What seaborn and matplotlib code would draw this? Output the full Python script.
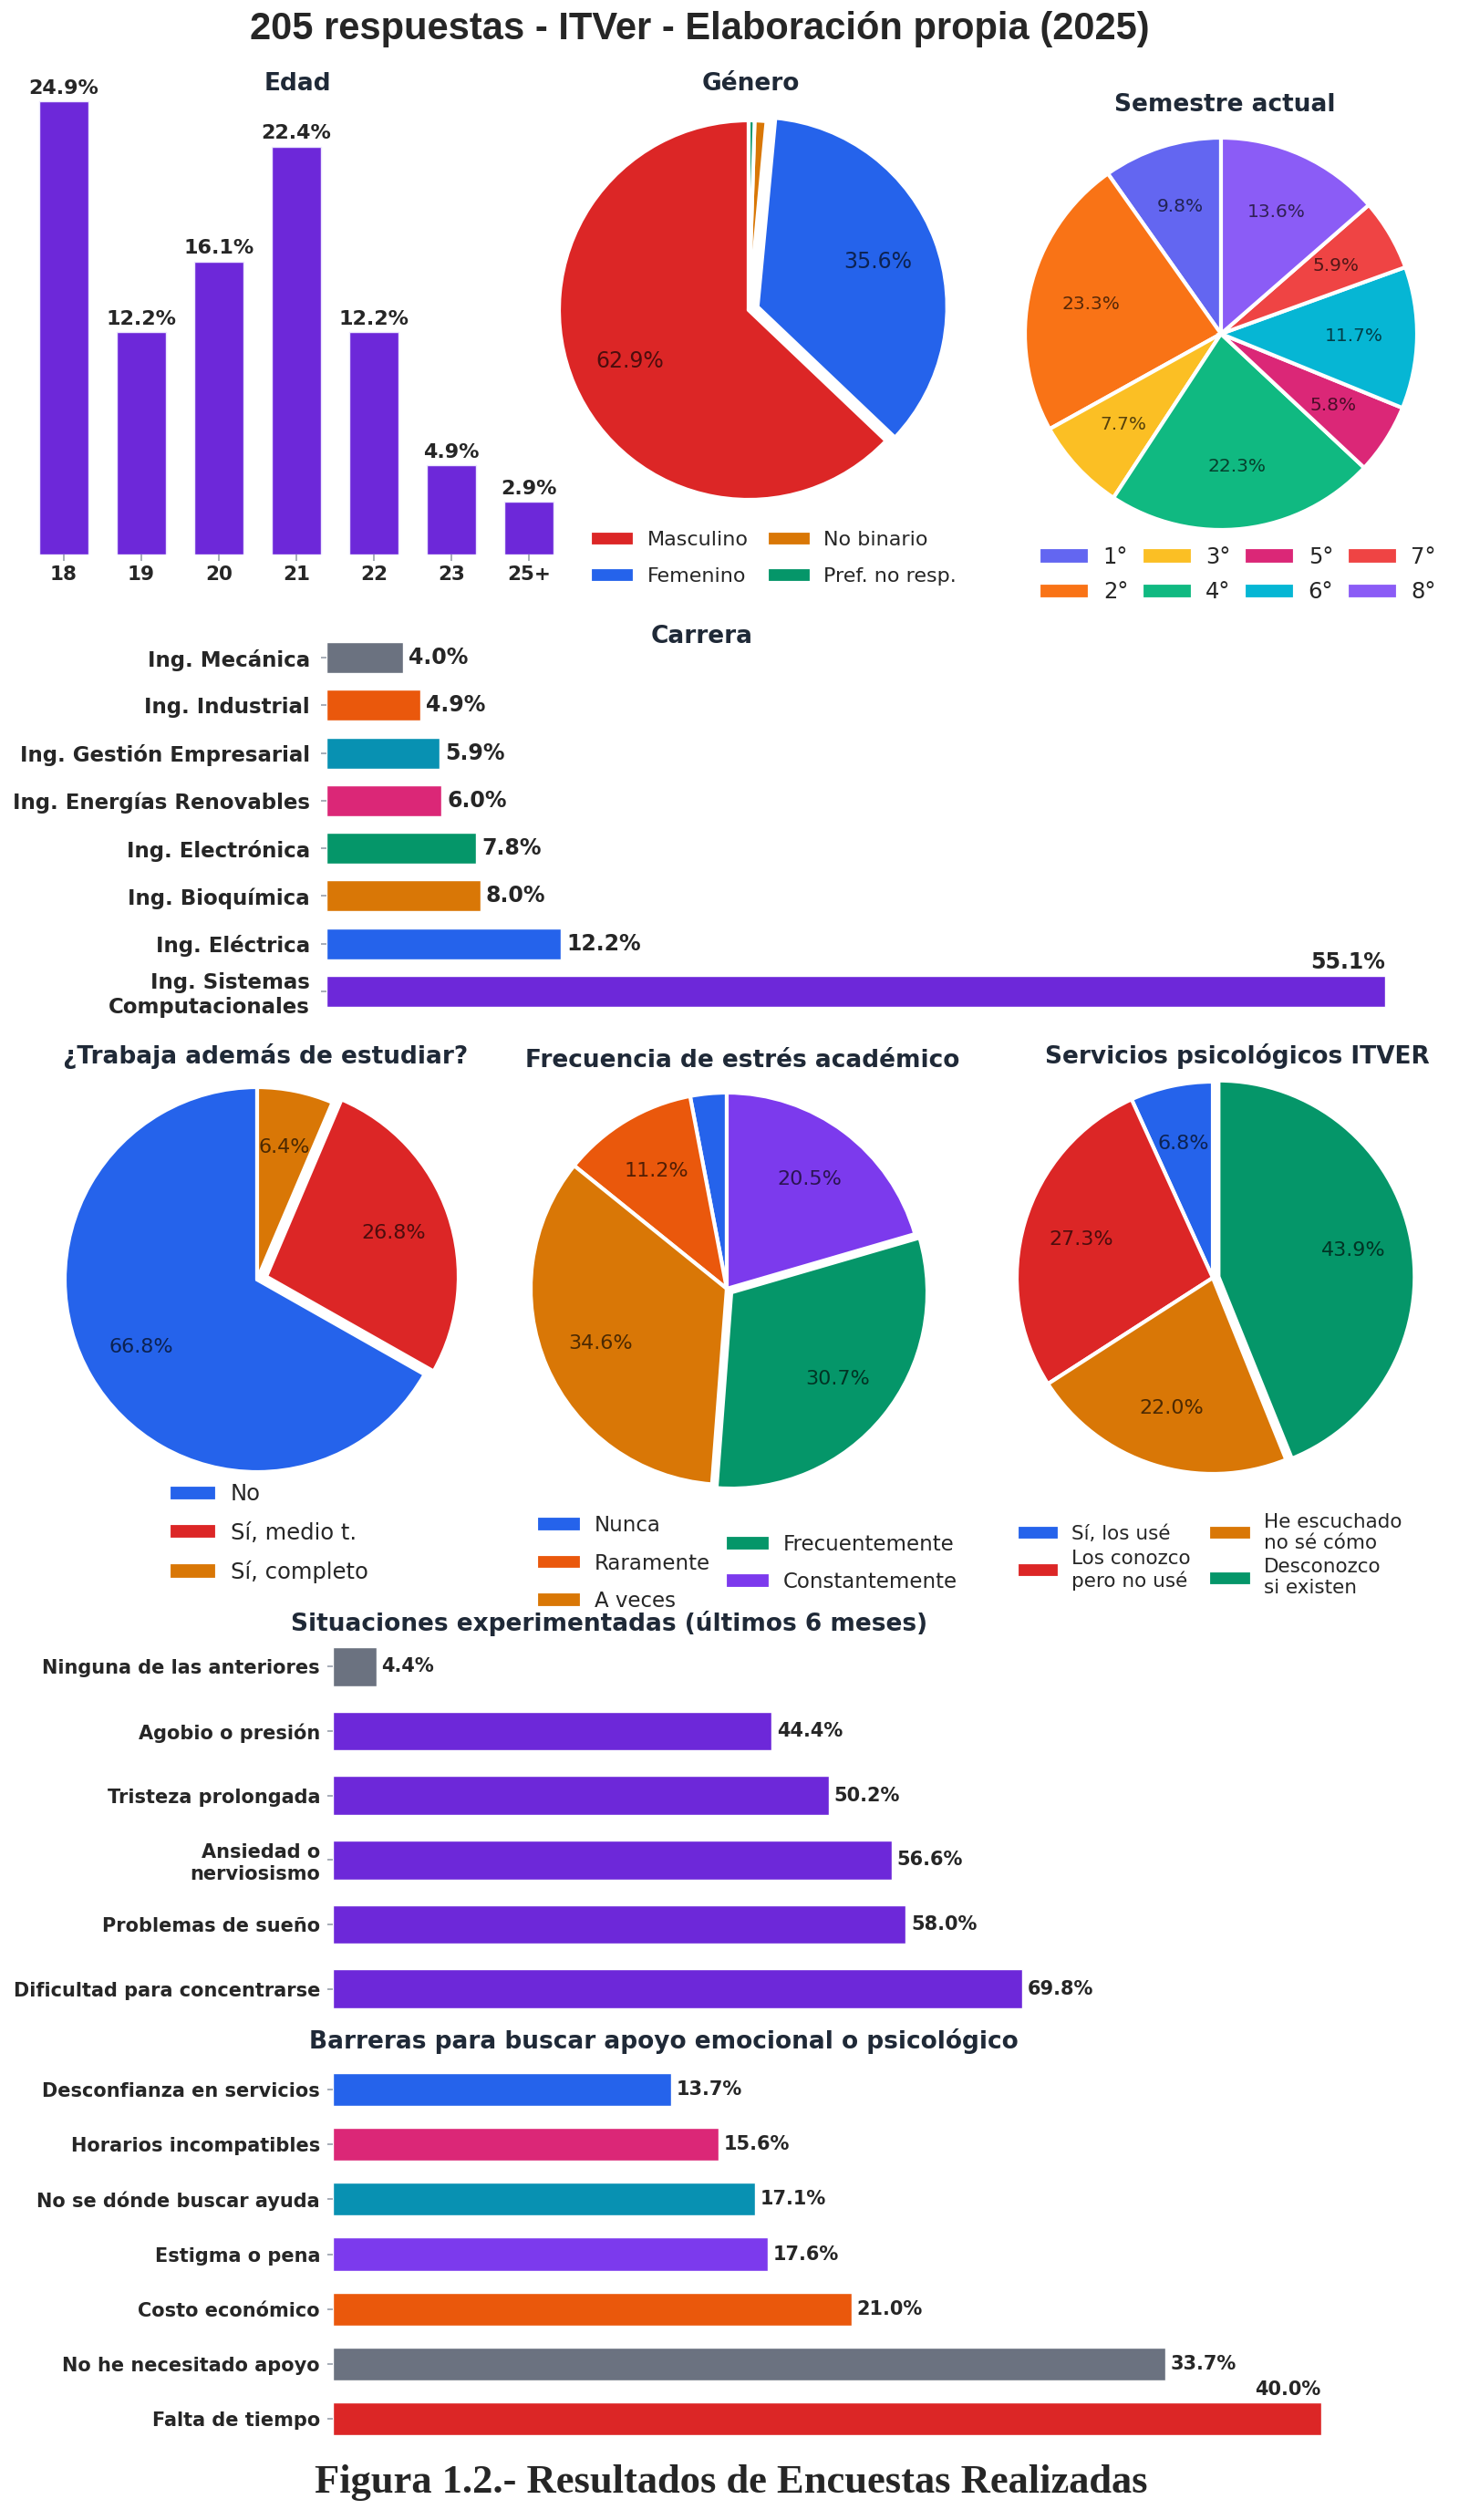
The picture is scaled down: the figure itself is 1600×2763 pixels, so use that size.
import matplotlib
matplotlib.use("Agg")
import matplotlib.pyplot as plt
import seaborn as sns
import pandas as pd

# ---------------- data ----------------
edad_labels = ["18", "19", "20", "21", "22", "23", "25+"]
edad_values = [24.9, 12.2, 16.1, 22.4, 12.2, 4.9, 2.9]

genero_labels = ["Masculino", "Femenino", "No binario", "Pref. no resp."]
genero_values = [62.9, 35.6, 1.0, 0.5]

semestre_labels = ["1°", "2°", "3°", "4°", "5°", "6°", "7°", "8°"]
semestre_values = [9.8, 23.3, 7.7, 22.3, 5.8, 11.7, 5.9, 13.6]

carrera_labels = ["Ing. Mecánica", "Ing. Industrial", "Ing. Gestión Empresarial",
                  "Ing. Energías Renovables", "Ing. Electrónica", "Ing. Bioquímica",
                  "Ing. Eléctrica", "Ing. Sistemas\nComputacionales"]
carrera_values = [4.0, 4.9, 5.9, 6.0, 7.8, 8.0, 12.2, 55.1]

trabajo_labels = ["No", "Sí, medio t.", "Sí, completo"]
trabajo_values = [66.8, 26.8, 6.4]

estres_labels = ["Nunca", "Raramente", "A veces", "Frecuentemente", "Constantemente"]
estres_values = [3.0, 11.2, 34.6, 30.7, 20.5]

servicios_labels = ["Sí, los usé", "Los conozco\npero no usé",
                    "He escuchado\nno sé cómo", "Desconozco\nsi existen"]
servicios_values = [6.8, 27.3, 22.0, 43.9]

situaciones_labels = ["Ninguna de las anteriores", "Agobio o presión", "Tristeza prolongada",
                      "Ansiedad o\nnerviosismo", "Problemas de sueño",
                      "Dificultad para concentrarse"]
situaciones_values = [4.4, 44.4, 50.2, 56.6, 58.0, 69.8]

barreras_labels = ["Desconfianza en servicios", "Horarios incompatibles",
                   "No se dónde buscar ayuda", "Estigma o pena", "Costo económico",
                   "No he necesitado apoyo", "Falta de tiempo"]
barreras_values = [13.7, 15.6, 17.1, 17.6, 21.0, 33.7, 40.0]

# ---------------- colours ----------------
PURPLE = "#6d28d9"
genero_colors = ["#dc2626", "#2563eb", "#d97706", "#059669"]
semestre_colors = ["#6366f1", "#f97316", "#fbbf24", "#10b981",
                   "#db2777", "#06b6d4", "#ef4444", "#8b5cf6"]
carrera_colors = ["#6b7280", "#ea580c", "#0891b2", "#db2777",
                  "#059669", "#d97706", "#2563eb", PURPLE]
trabajo_colors = ["#2563eb", "#dc2626", "#d97706"]
estres_colors = ["#2563eb", "#ea580c", "#d97706", "#059669", "#7c3aed"]
servicios_colors = ["#2563eb", "#dc2626", "#d97706", "#059669"]
situaciones_colors = ["#6b7280"] + [PURPLE] * 5
barreras_colors = ["#2563eb", "#db2777", "#0891b2", "#7c3aed",
                   "#ea580c", "#6b7280", "#dc2626"]
TITLE_C = "#1f2937"

sns.set_theme(style="white")
plt.rcParams["font.family"] = ["DejaVu Sans"]

W, H = 1600, 2763
fig = plt.figure(figsize=(16, 27.63), dpi=100)
fig.patch.set_facecolor("white")


def ax_px(x0, y0, x1, y1):
    return fig.add_axes([x0 / W, 1 - y1 / H, (x1 - x0) / W, (y1 - y0) / H])


def ftext(x, y, s, **kw):
    fig.text(x / W, 1 - y / H, s, **kw)


def title(x, y, s, fs=19):
    ftext(x, y, s, ha="center", va="center", fontsize=fs, fontweight="bold", color=TITLE_C)


# ---------------- Edad ----------------
ax = ax_px(27.5, 69, 622.5, 608)
df = pd.DataFrame({"edad": edad_labels, "pct": edad_values})
sns.barplot(data=df, x="edad", y="pct", color=PURPLE, saturation=1, width=0.64, ax=ax,
            edgecolor="#ede9fe", linewidth=1)
ax.set_xlim(-0.5, 6.5)
ax.set_ylim(0, 27)
for i, v in enumerate(edad_values):
    ax.text(i, v + 0.22, f"{v:.1f}%", ha="center", va="bottom", fontsize=16, fontweight="bold")
ax.set_xlabel("")
ax.set_ylabel("")
ax.set_yticks([])
ax.tick_params(axis="x", bottom=True, length=5, color="#9ca3af", labelsize=15.5, pad=4)
for t in ax.get_xticklabels():
    t.set_fontweight("bold")
sns.despine(ax=ax, left=True, bottom=True)
title(326, 92, "Edad")


# ---------------- pies ----------------
def pie(cx, cy, R, values, colors, explode, fs, pd_):
    a = ax_px(cx - 1.25 * R, cy - 1.25 * R, cx + 1.25 * R, cy + 1.25 * R)
    wedges, _, _ = a.pie(values, colors=colors, explode=explode, startangle=90,
                         counterclock=True,
                         autopct=lambda p: f"{p:.1f}%" if p >= 4 else "",
                         pctdistance=pd_,
                         wedgeprops=dict(edgecolor="white", linewidth=3),
                         textprops=dict(fontsize=fs, color="black", alpha=0.65))
    a.set_xlim(-1.25, 1.25)
    a.set_ylim(-1.25, 1.25)
    return wedges


def legend(handles, labels, x, y, ncol, fs=16, loc="center", **kw):
    opts = dict(ncol=ncol, frameon=False, fontsize=fs, handlelength=2.2,
                handleheight=0.8, columnspacing=0.9, labelspacing=0.4,
                handletextpad=0.6, borderpad=0, borderaxespad=0)
    opts.update(kw)
    fig.legend(handles, labels, loc=loc, bbox_to_anchor=(x / W, 1 - y / H), **opts)


w = pie(821, 340, 208, genero_values, genero_colors, [0, 0.05, 0, 0], 17, 0.68)
title(823, 92, "Género")
legend(w, genero_labels, 848, 612, 2, labelspacing=0.9)

w = pie(1339, 366, 215, semestre_values, semestre_colors, [0] * 8, 14.5, 0.68)
title(1343, 115, "Semestre actual")
legend(w, semestre_labels, 1357, 630, 4, fs=17.5, columnspacing=0.6, labelspacing=0.6,
       handlelength=2.3)

w = pie(282, 1403, 211, trabajo_values, trabajo_colors, [0, 0.05, 0], 16, 0.7)
title(291, 1158, "¿Trabaja además de estudiar?")
legend(w, trabajo_labels, 185, 1681, 1, fs=17.5, loc="center left", labelspacing=0.75)

w = pie(797, 1413, 215, estres_values, estres_colors, [0, 0, 0, 0.03, 0], 16, 0.7)
title(814, 1163, "Frecuencia de estrés académico")
legend(w[:3], estres_labels[:3], 588, 1714, 1, fs=16.5, loc="center left", labelspacing=0.8)
legend(w[3:], estres_labels[3:], 795, 1714, 1, fs=16.5, loc="center left", labelspacing=0.8)

w = pie(1330, 1401, 215, servicios_values, servicios_colors, [0, 0, 0, 0.03], 16, 0.7)
title(1357, 1158, "Servicios psicológicos ITVER")
legend(w, servicios_labels, 1326, 1705, 2, fs=15.5, labelspacing=0.3)


# ---------------- horizontal bars ----------------
def hbar(box, labels, values, colors, xmax, width, above_last, fs_tick=15, fs_val=15, pad=5):
    a = ax_px(*box)
    df = pd.DataFrame({"cat": labels, "val": values})
    pal = dict(zip(labels, colors))
    sns.barplot(data=df, x="val", y="cat", hue="cat", palette=pal, legend=False,
                orient="h", width=width, saturation=1, ax=a)
    n = len(labels)
    a.set_xlim(0, xmax)
    a.set_ylim(n - 0.5, -0.5)
    off = xmax * 0.005
    for i, v in enumerate(values):
        if above_last and i == n - 1:
            a.text(v, i - width / 2 - 0.06, f"{v:.1f}%", ha="right", va="bottom",
                   fontsize=fs_val, fontweight="bold")
        else:
            a.text(v + off, i, f"{v:.1f}%", ha="left", va="center",
                   fontsize=fs_val, fontweight="bold")
    a.set_xlabel("")
    a.set_ylabel("")
    a.set_xticks([])
    a.tick_params(axis="y", left=True, length=4, color="#9ca3af", labelsize=fs_tick, pad=pad)
    for t in a.get_yticklabels():
        t.set_fontweight("bold")
    sns.despine(ax=a, left=True, bottom=True)
    return a


hbar((358, 695, 1559, 1113), carrera_labels, carrera_values, carrera_colors, 57, 0.65, True,
     fs_tick=16.5, fs_val=17, pad=9)
title(770, 698, "Carrera")

hbar((365, 1792, 1556, 2216), situaciones_labels, situaciones_values, situaciones_colors,
     110, 0.6, False, pad=6)
title(668, 1780, "Situaciones experimentadas (últimos 6 meses)")

hbar((365, 2261, 1530, 2682), barreras_labels, barreras_values, barreras_colors,
     43, 0.6, True, pad=6)
title(728, 2238, "Barreras para buscar apoyo emocional o psicológico")

# ---------------- main title & caption ----------------
ftext(767, 32, "205 respuestas - ITVer - Elaboración propia (2025)", ha="center", va="center",
      fontsize=30, fontweight="bold", family=["Liberation Sans", "DejaVu Sans"])
ftext(802, 2722, "Figura 1.2.- Resultados de Encuestas Realizadas", ha="center", va="center",
      fontsize=32, fontweight="bold", family=["Liberation Serif", "DejaVu Serif"])

fig.savefig("out.png", dpi=100, facecolor="white")
